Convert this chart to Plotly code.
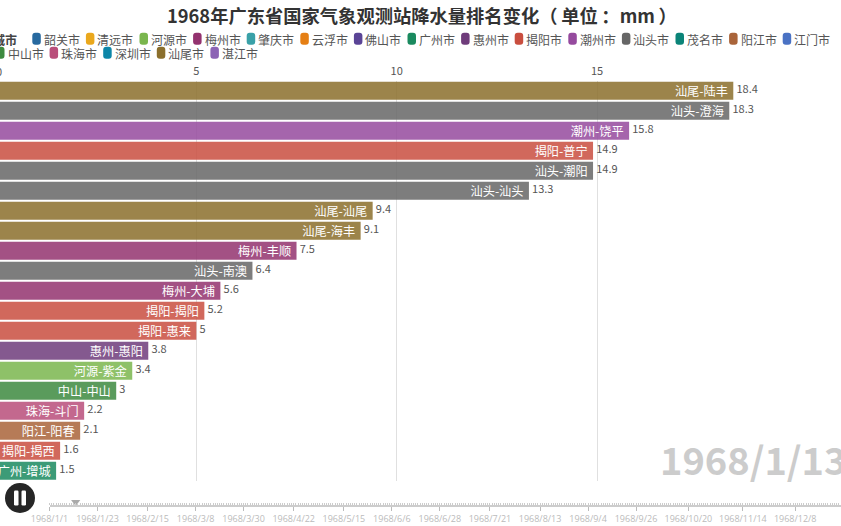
import plotly.graph_objects as go

W, H = 841, 526
FONT = "Noto Sans CJK SC"

title_text = "1968年广东省国家气象观测站降水量排名变化（\u2009单位\u2009：mm\u2009）"
current_date = "1968/1/13"

stations = ["汕尾-陆丰", "汕头-澄海", "潮州-饶平", "揭阳-普宁", "汕头-潮阳", "汕头-汕头", "汕尾-汕尾",
            "汕尾-海丰", "梅州-丰顺", "汕头-南澳", "梅州-大埔", "揭阳-揭阳", "揭阳-惠来", "惠州-惠阳",
            "河源-紫金", "中山-中山", "珠海-斗门", "阳江-阳春", "揭阳-揭西", "广州-增城"]
rainfall = [18.4, 18.3, 15.8, 14.9, 14.9, 13.3, 9.4, 9.1, 7.5, 6.4, 5.6, 5.2, 5, 3.8, 3.4, 3, 2.2, 2.1, 1.6, 1.5]

legend_row1 = ["韶关市", "清远市", "河源市", "梅州市", "肇庆市", "云浮市", "佛山市", "广州市",
               "惠州市", "揭阳市", "潮州市", "汕头市", "茂名市", "阳江市", "江门市"]
legend_row2 = ["中山市", "珠海市", "深圳市", "汕尾市", "湛江市"]
city_colors = {"韶关市": "#27699f", "清远市": "#eaa81d", "河源市": "#7ab64e", "梅州市": "#93326f",
               "肇庆市": "#3aa1a8", "云浮市": "#e57f14", "佛山市": "#5a4496", "广州市": "#1a8a5f",
               "惠州市": "#6f3c7b", "揭阳市": "#c94e3f", "潮州市": "#954a9e", "汕头市": "#666666",
               "茂名市": "#0b8478", "阳江市": "#a9643a", "江门市": "#4a72c4", "中山市": "#3d8a3f",
               "珠海市": "#b94e7a", "深圳市": "#0d86a8", "汕尾市": "#8b6f2c", "湛江市": "#8c63b5"}

timeline_dates = ["1968-01-01", "1968-01-23", "1968-02-15", "1968-03-08", "1968-03-30", "1968-04-22",
                  "1968-05-15", "1968-06-06", "1968-06-28", "1968-07-21", "1968-08-13", "1968-09-04",
                  "1968-09-26", "1968-10-20", "1968-11-14", "1968-12-08"]
timeline_labels = ["1968/1/1", "1968/1/23", "1968/2/15", "1968/3/8", "1968/3/30", "1968/4/22",
                   "1968/5/15", "1968/6/6", "1968/6/28", "1968/7/21", "1968/8/13", "1968/9/4",
                   "1968/9/26", "1968/10/20", "1968/11/14", "1968/12/8"]
timeline_current = "1968-01-13"


def px(x):
    return x / W


def py(y):
    return 1 - y / H


def rounded_rect(x0, y0, x1, y1, r):
    return (f"M{px(x0 + r)},{py(y0)} L{px(x1 - r)},{py(y0)} Q{px(x1)},{py(y0)} {px(x1)},{py(y0 + r)} "
            f"L{px(x1)},{py(y1 - r)} Q{px(x1)},{py(y1)} {px(x1 - r)},{py(y1)} "
            f"L{px(x0 + r)},{py(y1)} Q{px(x0)},{py(y1)} {px(x0)},{py(y1 - r)} "
            f"L{px(x0)},{py(y0 + r)} Q{px(x0)},{py(y0)} {px(x0 + r)},{py(y0)} Z")


bar_colors = [city_colors[s.split("-")[0] + "市"] for s in stations]

fig = go.Figure()
fig.add_trace(go.Bar(
    x=rainfall, y=stations, orientation="h", width=0.9,
    marker=dict(color=bar_colors, opacity=0.85, line=dict(width=0)),
    text=[s + "\u2009" for s in stations], textposition="inside", insidetextanchor="end", textangle=0,
    insidetextfont=dict(color="white", size=12.2, family=FONT),
    constraintext="none", hoverinfo="x+y", showlegend=False,
))
fig.add_trace(go.Scatter(
    x=rainfall, y=stations, mode="text", text=[f" \u200a{v:g}" for v in rainfall],
    textposition="middle right", textfont=dict(color="#555555", size=11, family=FONT),
    hoverinfo="skip", showlegend=False,
))
fig.add_trace(go.Scatter(
    x=[timeline_current], y=[0], xaxis="x2", yaxis="y2", mode="markers",
    marker=dict(symbol="triangle-down", size=8, color="#aaaaaa"),
    hoverinfo="skip", showlegend=False,
))

shapes = []
annotations = []


def add_legend(names, start):
    for i, name in enumerate(names):
        left, row_y = start[0] + 53.6 * i, start[1]
        shapes.append(dict(type="path", xref="paper", yref="paper",
                           path=rounded_rect(left, row_y - 6, left + 8.5, row_y + 6, 3),
                           fillcolor=city_colors[name], line=dict(width=0)))
        annotations.append(dict(text=name, xref="paper", yref="paper", x=px(left + 9.5), y=py(row_y + 0.5),
                                xanchor="left", yanchor="middle", showarrow=False,
                                font=dict(size=12, color="#555555", family=FONT)))


add_legend(legend_row1, (32.3, 38.7))
add_legend(legend_row2, (-4, 52.7))

annotations.append(dict(text="<b>城市</b>", xref="paper", yref="paper", x=px(19), y=py(39.2),
                        xanchor="right", yanchor="middle", showarrow=False,
                        font=dict(size=12, color="#444444", family=FONT)))
annotations.append(dict(text=f"<b>{title_text}</b>", xref="paper", yref="paper", x=px(422), y=py(14.5),
                        xanchor="center", yanchor="middle", showarrow=False,
                        font=dict(size=18.3, color="#333333", family=FONT)))
annotations.append(dict(text=f"<b>{current_date}</b>", xref="paper", yref="paper", x=px(848), y=py(458),
                        xanchor="right", yanchor="middle", showarrow=False,
                        font=dict(size=38, color="#cccccc", family=FONT)))
annotations.append(dict(text="0", xref="paper", yref="paper", x=px(-1), y=py(71),
                        xanchor="center", yanchor="middle", showarrow=False,
                        font=dict(size=11, color="#555555", family=FONT)))

shapes.append(dict(type="circle", xref="paper", yref="paper", x0=px(5), x1=px(35), y0=py(513), y1=py(483),
                   fillcolor="#262626", line=dict(width=0)))
for bx in (14, 21.5):
    shapes.append(dict(type="path", xref="paper", yref="paper",
                       path=rounded_rect(bx, 490.5, bx + 4.5, 505.5, 1.2),
                       fillcolor="white", line=dict(width=0)))

fig.update_layout(
    width=W, height=H, margin=dict(l=0, r=0, t=0, b=0, pad=0, autoexpand=False),
    paper_bgcolor="white", plot_bgcolor="white",
    font=dict(family=FONT), bargap=0.1, showlegend=False,
    shapes=shapes, annotations=annotations,
    xaxis=dict(domain=[0, 1], range=[4 / 40.07, 845 / 40.07], side="top", anchor="y",
               tickvals=[5, 10, 15], tickfont=dict(size=11, color="#555555", family=FONT),
               ticks="", ticklen=0, ticklabelstandoff=3, showgrid=True, gridcolor="#e0e0e0", gridwidth=1,
               zeroline=False, showline=False),
    yaxis=dict(domain=[py(480.7), py(80.7)], range=[19.5, -0.5], showticklabels=False, ticks="",
               showgrid=False, zeroline=False, showline=False, type="category",
               categoryorder="array", categoryarray=stations),
    xaxis2=dict(type="date", domain=[49.5 / W, 1], range=["1968-01-01", "1968-12-29"],
                anchor="free", position=py(506), side="bottom",
                tickvals=timeline_dates, ticktext=timeline_labels, ticks="outside", ticklen=4,
                tickcolor="#bbbbbb", tickwidth=1,
                tickfont=dict(size=9, color="#bbbbbb", family="Open Sans"),
                showgrid=False, zeroline=False, showline=True, linecolor="#cccccc", linewidth=2,
                minor=dict(dtick=86400000, ticks="inside", ticklen=2, tickcolor="#cccccc", tickwidth=1,
                           showgrid=False)),
    yaxis2=dict(domain=[py(506), py(498)], range=[-1, 1], visible=False, anchor="free", position=0),
)

fig.write_html("out.html", config={"displayModeBar": False},
               post_script="document.body.style.margin='0';document.body.style.overflow='hidden';")
